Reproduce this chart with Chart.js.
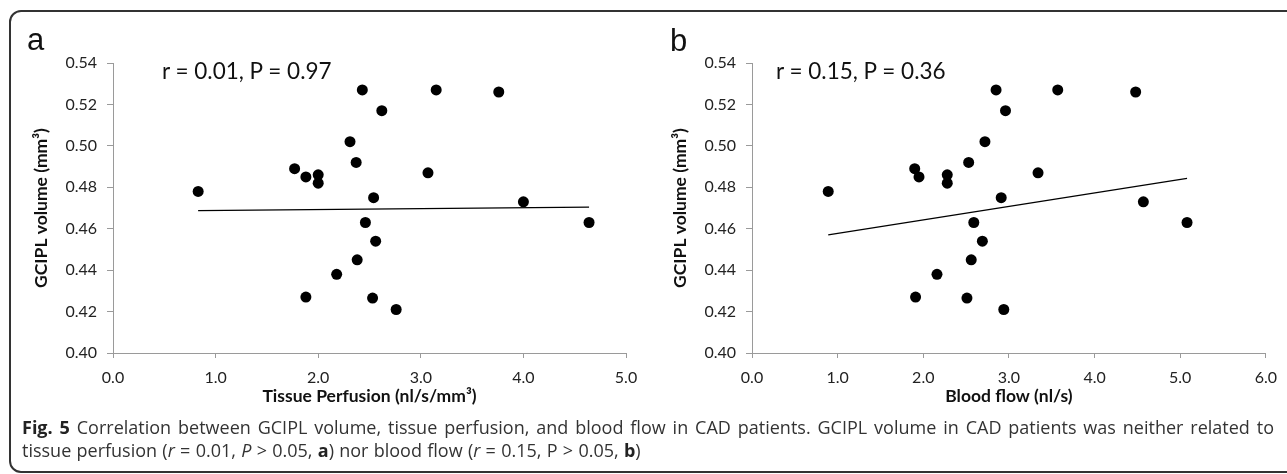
<!DOCTYPE html>
<html>
<head>
<meta charset="utf-8">
<script src="https://cdn.jsdelivr.net/npm/chart.js@4.4.1/dist/chart.umd.min.js"></script>
<style>
  html, body { margin: 0; padding: 0; background: #fff; }
  body { width: 1287px; height: 474px; position: relative; overflow: hidden; }
  .frame { position: absolute; left: 9px; top: 10px; width: 1300px; height: 463px; border: 2px solid #333; border-radius: 12px; box-sizing: border-box; }
  canvas { position: absolute; }
  .panel-label { position: absolute; font-family: "Liberation Sans", Arial, sans-serif; font-size: 31px; line-height: 1; color: #111; }
  .stat { position: absolute; font-family: Lato, sans-serif; font-size: 22.5px; line-height: 1; color: #111; white-space: nowrap; }
  .caption { position: absolute; font-family: "Open Sans", sans-serif; font-size: 18px; line-height: 1; color: #333; white-space: nowrap; }
  .caption b { color: #222; }
  #cap1 { left: 22px; width: 1252px; text-align: justify; text-align-last: justify; }
  #cap2 { left: 22px; word-spacing: 0.6px; }
</style>
</head>
<body>
<div class="frame"></div>
<canvas id="chart-a" width="630" height="400" style="left:20px;top:20px;"></canvas>
<canvas id="chart-b" width="628" height="400" style="left:659px;top:20px;"></canvas>
<div class="panel-label" style="left:27px;top:24px;">a</div>
<div class="panel-label" style="left:670px;top:25px;">b</div>
<div class="stat" style="left:162px;top:60px;">r = 0.01, P = 0.97</div>
<div class="stat" style="left:776px;top:60px;">r = 0.15, P = 0.36</div>
<div class="caption" id="cap1" style="top:418px;"><b>Fig. 5</b> Correlation between GCIPL volume, tissue perfusion, and blood flow in CAD patients. GCIPL volume in CAD patients was neither related to</div>
<div class="caption" id="cap2" style="top:441px;">tissue perfusion (<i>r</i> = 0.01, <i>P</i> &gt; 0.05, <b>a</b>) nor blood flow (<i>r</i> = 0.15, P &gt; 0.05, <b>b</b>)</div>
<script>
// values (same GCIPL volumes in both panels)
const gciplVolume = [0.527, 0.527, 0.526, 0.517, 0.502, 0.492, 0.489, 0.485, 0.486, 0.482, 0.478, 0.487, 0.475, 0.473, 0.463, 0.463, 0.454, 0.445, 0.438, 0.427, 0.4265, 0.421];
const tissuePerfusion = [2.43, 3.15, 3.76, 2.62, 2.31, 2.37, 1.77, 1.88, 2.00, 2.00, 0.83, 3.07, 2.54, 4.00, 2.46, 4.64, 2.56, 2.38, 2.18, 1.88, 2.53, 2.76];
const bloodFlow = [2.85, 3.57, 4.48, 2.96, 2.72, 2.53, 1.90, 1.95, 2.28, 2.28, 0.89, 3.34, 2.91, 4.57, 2.59, 5.08, 2.69, 2.56, 2.16, 1.91, 2.51, 2.94];

// trend line end points
const trendA = [{ x: 0.83, y: 0.4687 }, { x: 4.64, y: 0.4704 }];
const trendB = [{ x: 0.89, y: 0.4570 }, { x: 5.08, y: 0.4843 }];

const yTicks = { min: 0.40, max: 0.54, step: 0.02 };
const axisGray = '#9a9a9a';
const tickFont = { family: 'Lato', size: 16 };
const titleFont = { family: 'Lato', size: 17.5, weight: 'bold' };

function makeScatter(id, xs, trend, xMax, xTitle) {
    const points = xs.map((x, i) => ({ x: x, y: gciplVolume[i] }));
    return new Chart(document.getElementById(id), {
        type: 'scatter',
        data: {
            datasets: [
                { data: points, pointRadius: 5.5, pointBorderWidth: 0, backgroundColor: '#000', borderColor: '#000' },
                { type: 'line', data: trend, borderColor: '#000', borderWidth: 1.3, pointRadius: 0, fill: false }
            ]
        },
        options: {
            responsive: false,
            animation: false,
            events: [],
            layout: { padding: { left: 0, top: 43, right: id === 'chart-a' ? 24 : 20, bottom: 0 } },
            plugins: { legend: { display: false }, tooltip: { enabled: false } },
            scales: {
                x: {
                    type: 'linear', min: 0, max: xMax,
                    ticks: { stepSize: 1, padding: 10, color: '#222', font: tickFont, maxRotation: 0, callback: v => v.toFixed(1) },
                    grid: { drawOnChartArea: false, tickLength: 5, color: axisGray },
                    border: { color: axisGray },
                    title: { display: true, text: xTitle, color: '#111', font: titleFont, padding: { top: 0, bottom: 13 } },
                    afterFit: s => { s.height = 67; }
                },
                y: {
                    min: yTicks.min, max: yTicks.max,
                    ticks: { stepSize: yTicks.step, padding: 10, color: '#222', font: tickFont, callback: v => v.toFixed(2) },
                    grid: { drawOnChartArea: false, tickLength: 6, color: axisGray },
                    border: { color: axisGray },
                    title: { display: true, text: 'GCIPL volume (mm³)', color: '#111', font: titleFont, padding: { top: 11, bottom: 0 } },
                    afterFit: s => { s.width = 93; }
                }
            }
        }
    });
}

makeScatter('chart-a', tissuePerfusion, trendA, 5, 'Tissue Perfusion (nl/s/mm³)');
makeScatter('chart-b', bloodFlow, trendB, 6, 'Blood flow (nl/s)');
</script>
</body>
</html>
